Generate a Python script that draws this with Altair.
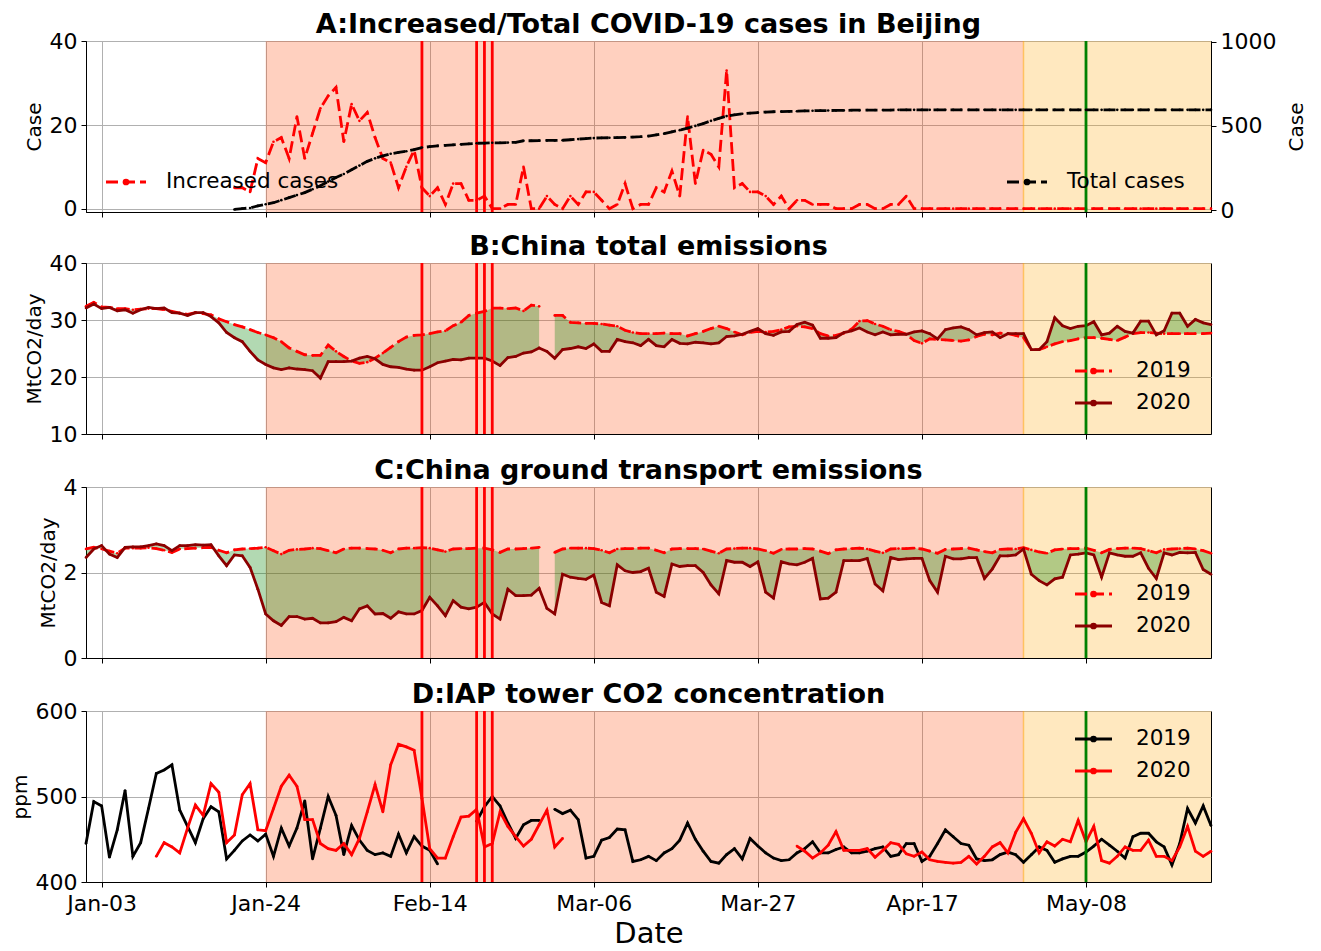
import altair as alt
import pandas as pd

FONT = "DejaVu Sans"

# ---------------- data ----------------
DATE_START = "2020-01-01"
DATE_END = "2020-05-24"
TICK_DATES = ["2020-01-03", "2020-01-24", "2020-02-14", "2020-03-06",
              "2020-03-27", "2020-04-17", "2020-05-08"]
SPAN_START = ["2020-01-24", "2020-04-30"]
SPAN_END = ["2020-04-30", "2020-05-24"]
SPAN_KIND = ["lockdown", "reopen"]
SPAN_COLORS = ["#ff4500", "#ffa500"]
RED_LINES = ["2020-02-13", "2020-02-20", "2020-02-21", "2020-02-22"]
GREEN_LINES = ["2020-05-08"]
EDGE_LINES = ["2020-04-30"]

# A: Beijing daily increased cases / total cases (from Jan-20)
INCREASED = [None] * 19 + [
    5, 5, 4, 12, 11, 16, 17, 12, 22, 12,
    18, 24, 27, 29, 16, 25, 21, 23, 17, 12,
    11, 5, 10, 14, 5, 3, 5, 1, 6, 6,
    2, 2, 3, 0, 0, 1, 1, 10, 0, 0,
    3, 1, 0, 3, 1, 4, 4, 2, 0, 1,
    6, 0, 1, 1, 5, 4, 9, 3, 22, 6,
    14, 13, 10, 33, 5, 6, 4, 4, 3, 1,
    3, 0, 2, 2, 1, 1, 1, 0, 0, 0,
    1, 1, 0, 0, 1, 1, 3, 0, 0, 0,
    0, 0, 0, 0, 0, 0, 0, 0, 0, 0,
    0, 0, 0, 0, 0, 0, 0, 0, 0, 0,
    0, 0, 0, 0, 0, 0, 0, 0, 0, 0,
    0, 0, 0, 0, 0, 0]
TOTAL = [None] * 19 + [
    5, 10, 14, 26, 36, 45, 60, 75, 90, 105,
    125, 145, 170, 195, 215, 240, 265, 290, 308, 322,
    335, 343, 350, 360, 372, 377, 382, 385, 388, 391,
    394, 397, 398, 400, 400, 401, 403, 412, 412, 413,
    414, 414, 415, 418, 422, 425, 428, 429, 430, 431,
    432, 434, 436, 440, 447, 454, 465, 475, 487, 500,
    514, 530, 545, 558, 566, 572, 576, 579, 582, 584,
    585, 586, 587, 589, 590, 591, 591, 592, 592, 593,
    593, 594, 594, 594, 594, 595, 595, 595, 595, 595,
    595, 595, 595, 595, 595, 595, 595, 595, 595, 595,
    595, 595, 595, 595, 595, 595, 595, 595, 595, 595,
    595, 595, 595, 595, 595, 595, 595, 595, 595, 595,
    595, 595, 595, 595, 595, 595]

# B: China total emissions (MtCO2/day)
B_2019 = [
    32.4, 33.1, 32.3, 32.2, 32.0, 32.0, 31.8, 31.9, 32.0, 32.0,
    31.8, 31.5, 31.2, 31.0, 31.3, 31.1, 30.9, 30.2, 29.7, 29.2,
    28.8, 28.3, 27.8, 27.4, 26.9, 26.2, 25.1, 24.5, 23.9, 23.8,
    23.8, 25.6, 24.5, 23.6, 22.8, 22.4, 22.6, 23.3, 24.2, 25.2,
    26.2, 27.0, 27.3, 27.4, 27.6, 27.9, 28.1, 29.0, 29.6, 30.8,
    31.2, 31.5, 32.1, 32.1, 32.0, 32.1, 31.6, 32.6, 32.4, None,
    30.8, 30.8, 29.6, 29.5, 29.4, 29.4, 29.3, 29.1, 28.9, 28.2,
    27.8, 27.6, 27.6, 27.6, 27.7, 27.6, 27.6, 27.2, 27.6, 28.0,
    28.5, 28.9, 28.5, 27.9, 27.4, 27.8, 28.0, 27.9, 28.0, 28.3,
    28.8, 28.9, 28.8, 28.5, 27.6, 27.2, 27.3, 27.7, 28.4, 29.8,
    29.9, 29.3, 28.9, 28.3, 28.0, 27.5, 26.4, 25.9, 26.7, 26.6,
    26.5, 26.4, 26.3, 26.5, 27.1, 27.5, 27.4, 27.7, 27.6, 27.3,
    26.9, 24.8, 24.8, 25.3, 25.8, 26.2, 26.4, 26.7, 26.9, 26.9,
    26.8, 26.6, 26.4, 27.0, 27.6, 27.8, 27.8, 27.7, 27.6, 27.6,
    27.6, 27.6, 27.6, 27.6, 27.7]
B_2020 = [
    32.1, 32.8, 32.0, 32.2, 31.6, 31.8, 31.2, 31.8, 32.2, 32.0,
    32.1, 31.3, 31.2, 30.8, 31.3, 31.3, 30.6, 29.5, 27.8, 26.9,
    26.2, 24.5, 23.0, 22.2, 21.6, 21.3, 21.6, 21.4, 21.3, 21.1,
    19.8, 22.7, 22.7, 22.7, 22.8, 23.3, 23.6, 23.2, 22.2, 21.8,
    21.7, 21.4, 21.2, 21.2, 21.8, 22.5, 22.8, 23.1, 23.0, 23.3,
    23.3, 23.3, 22.8, 22.0, 23.4, 23.6, 24.2, 24.4, 25.1, 24.5,
    23.3, 24.8, 25.0, 25.3, 25.0, 25.8, 24.5, 24.5, 26.6, 26.2,
    26.0, 25.5, 26.6, 25.5, 25.3, 26.6, 25.9, 25.8, 26.1, 26.0,
    25.8, 26.0, 27.1, 27.2, 27.5, 28.0, 28.5, 27.6, 27.3, 27.9,
    28.0, 29.2, 29.6, 29.1, 26.8, 26.8, 26.9, 27.8, 28.1, 28.6,
    27.9, 27.4, 27.9, 27.4, 27.5, 27.5, 27.9, 28.1, 27.6, 26.7,
    28.3, 28.6, 28.8, 28.3, 27.4, 27.8, 27.9, 26.9, 27.6, 27.6,
    27.6, 24.8, 24.8, 26.2, 30.4, 29.0, 28.5, 28.9, 29.0, 29.7,
    27.4, 27.7, 28.9, 28.0, 27.7, 29.8, 29.8, 27.4, 28.1, 31.2,
    31.2, 28.9, 30.1, 29.5, 29.2]

# C: China ground transport emissions (MtCO2/day)
C_2019 = [
    2.55, 2.59, 2.55, 2.50, 2.45, 2.57, 2.57, 2.57, 2.58, 2.56,
    2.52, 2.47, 2.55, 2.56, 2.57, 2.58, 2.59, 2.52, 2.46, 2.53,
    2.55, 2.56, 2.57, 2.59, 2.51, 2.43, 2.52, 2.54, 2.55, 2.57,
    2.56, 2.51, 2.46, 2.55, 2.57, 2.57, 2.56, 2.55, 2.52, 2.46,
    2.55, 2.57, 2.57, 2.58, 2.57, 2.53, 2.49, 2.55, 2.56, 2.56,
    2.57, 2.57, 2.53, 2.47, 2.55, 2.55, 2.56, 2.57, 2.59, None,
    2.47, 2.55, 2.57, 2.57, 2.57, 2.56, 2.52, 2.46, 2.55, 2.56,
    2.56, 2.57, 2.57, 2.52, 2.46, 2.55, 2.56, 2.56, 2.56, 2.55,
    2.50, 2.45, 2.55, 2.56, 2.57, 2.57, 2.55, 2.51, 2.45, 2.54,
    2.55, 2.55, 2.56, 2.55, 2.50, 2.44, 2.53, 2.55, 2.56, 2.57,
    2.55, 2.50, 2.46, 2.55, 2.56, 2.56, 2.57, 2.55, 2.50, 2.45,
    2.54, 2.55, 2.56, 2.57, 2.53, 2.49, 2.46, 2.54, 2.55, 2.55,
    2.58, 2.53, 2.48, 2.45, 2.53, 2.55, 2.56, 2.56, 2.57, 2.52,
    2.46, 2.54, 2.56, 2.57, 2.57, 2.56, 2.51, 2.46, 2.54, 2.55,
    2.56, 2.57, 2.55, 2.51, 2.45]
C_2020 = [
    2.35, 2.55, 2.63, 2.43, 2.35, 2.59, 2.60, 2.60, 2.63, 2.67,
    2.63, 2.51, 2.63, 2.63, 2.65, 2.64, 2.65, 2.39, 2.16, 2.41,
    2.39, 2.12, 1.61, 1.03, 0.87, 0.76, 0.97, 0.97, 0.91, 0.93,
    0.82, 0.82, 0.85, 0.95, 0.87, 1.15, 1.22, 1.03, 1.04, 0.93,
    1.08, 1.03, 1.03, 1.11, 1.42, 1.22, 0.99, 1.34, 1.19, 1.15,
    1.19, 1.30, 1.03, 0.91, 1.61, 1.46, 1.46, 1.47, 1.63, 1.16,
    1.03, 1.96, 1.89, 1.86, 1.84, 1.94, 1.30, 1.22, 2.18, 2.04,
    2.00, 2.02, 2.10, 1.54, 1.44, 2.20, 2.14, 2.16, 2.16, 2.00,
    1.71, 1.50, 2.28, 2.24, 2.24, 2.14, 2.25, 1.54, 1.40, 2.25,
    2.20, 2.18, 2.24, 2.33, 1.38, 1.40, 1.54, 2.28, 2.28, 2.28,
    2.33, 1.73, 1.57, 2.35, 2.30, 2.32, 2.33, 2.33, 1.81, 1.54,
    2.38, 2.32, 2.32, 2.35, 2.35, 1.86, 2.08, 2.39, 2.39, 2.41,
    2.55, 1.96, 1.81, 1.71, 1.85, 1.89, 2.41, 2.43, 2.46, 2.41,
    1.89, 2.46, 2.41, 2.38, 2.38, 2.46, 2.10, 1.86, 2.46, 2.41,
    2.47, 2.46, 2.47, 2.07, 1.96]

# D: IAP tower CO2 concentration (ppm)
D_2019 = [
    445, 494, 489, 429, 461, 507, 430, 446, 486, 527,
    531, 537, 484, 465, 446, 474, 488, 482, 427, 437,
    448, 455, 448, 456, 430, 463, 442, 463, 495, 427,
    463, 500, 478, 432, 466, 449, 437, 432, 434, 430,
    456, 434, 453, 442, 437, 421, None, None, None, None,
    471, 488, 500, 489, 469, 451, 467, 472, 472, None,
    485, 480, 484, 473, 428, 430, 449, 452, 462, 461,
    424, 426, 430, 425, 434, 439, 449, 469, 450, 436,
    424, 422, 432, 439, 427, 451, 442, 434, 428, 425,
    426, 434, 439, 447, 434, 434, 438, 441, 434, 434,
    436, 439, 441, 430, 432, 445, 445, 424, 430, 445,
    461, 453, 445, 443, 427, 425, 426, 432, 435, 432,
    423, 432, 441, 437, 423, 427, 430, 430, 435, 442,
    450, 443, 436, 428, 453, 457, 457, 447, 441, 420,
    445, 486, 469, 489, 466]
D_2020 = [None] * 9 + [
    430, 446, 441, 434, 463, 490, 478, 515, 505, 446,
    455, 502, 515, 461, 460, 486, 512, 525, 512, 473,
    473, 445, 439, 437, 445, 432, 451, 482, 514, 482,
    537, 561, 558, 554, 498, 439, 428, 428, 453, 476,
    477, 485, 441, 445, 482, 465, 453, 442, 450, 467,
    484, 441, 451] + [None] * 29 + [
    442, 436, 428, 434, 443, 459, 437, 437, 437,
    439, 429, 437, 446, 444, 433, 430, 435, 426, 424,
    423, 422, 423, 430, 421, 430, 441, 446, 434, 458,
    474, 457, 434, 447, 442, 450, 447, 472, 447, 465,
    425, 422, 430, 441, 437, 437, 449, 430, 430, 425,
    441, 465, 436, 430, 436]

# ---------------- helpers ----------------
DAYS = pd.date_range(DATE_START, DATE_END, freq="D")
DATE_MS = [int(t.value // 10**6) for t in DAYS]
for s in (INCREASED, TOTAL, B_2019, B_2020, C_2019, C_2020, D_2019, D_2020):
    assert len(s) == len(DATE_MS), len(s)


def ms(s):
    return int(pd.Timestamp(s).value // 10**6)


def series_df(values):
    rows, seg, gap = [], 0, True
    for t, v in zip(DATE_MS, values):
        if v is None:
            gap = True
            continue
        if gap:
            seg += 1
            gap = False
        rows.append({"date": t, "v": v, "seg": seg})
    return pd.DataFrame(rows)


def band_df(a, b):
    rows, seg, gap = [], 0, True
    for t, va, vb in zip(DATE_MS, a, b):
        if va is None or vb is None:
            gap = True
            continue
        if gap:
            seg += 1
            gap = False
        rows.append({"date": t, "lo": va, "hi": vb, "seg": seg})
    return pd.DataFrame(rows)


W, H = 1125, 171
RED, DARKRED, GREEN, BLACK = "#ff0000", "#8b0000", "#008000", "#000000"
DASH = [12, 5]
LW = 2.8
DUMMY = pd.DataFrame({"k": [0]})

XSCALE = alt.Scale(type="utc", domain=[ms(DATE_START), ms(DATE_END)], nice=False)
TICKS = [ms(d) for d in TICK_DATES]
AX_TOP = alt.Axis(values=TICKS, labels=False, title=None, grid=True)
AX_BOTTOM = alt.Axis(values=TICKS, labelExpr="utcFormat(datum.value, '%b-%d')",
                     title="Date", titleFontSize=29, titlePadding=5, labelPadding=6,
                     grid=True, labelFlush=False)


def xch(field, bottom):
    return alt.X(f"{field}:T", scale=XSCALE, axis=AX_BOTTOM if bottom else AX_TOP)


def spans(bottom):
    df = pd.DataFrame({"start": [ms(s) for s in SPAN_START],
                       "end": [ms(s) for s in SPAN_END], "kind": SPAN_KIND})
    return alt.Chart(df).mark_rect(opacity=0.25, strokeWidth=0).encode(
        x=xch("start", bottom), x2="end:T", y=alt.value(0), y2=alt.value(H),
        color=alt.Color("kind:N", scale=alt.Scale(domain=SPAN_KIND, range=SPAN_COLORS),
                        legend=None))


def vlines(dates, color, bottom, width=LW, opacity=1.0):
    df = pd.DataFrame({"date": [ms(d) for d in dates]})
    return alt.Chart(df).mark_rule(color=color, strokeWidth=width, opacity=opacity).encode(
        x=xch("date", bottom), y=alt.value(0), y2=alt.value(H))


def line(values, ych, color, bottom, dash=None):
    df = series_df(values)
    kw = dict(color=color, strokeWidth=LW)
    if dash:
        kw["strokeDash"] = dash
    ln = alt.Chart(df).mark_line(**kw).encode(x=xch("date", bottom), y=ych, detail="seg:N")
    pt = alt.Chart(df).mark_circle(color=color, size=7, opacity=1).encode(
        x=xch("date", bottom), y=ych)
    return [ln, pt]


def legend_item(x0, y, color, label, dash=None, width=40, gap=20, fs=21.5):
    kw = dict(color=color, strokeWidth=LW)
    if dash:
        kw["strokeDash"] = dash
    ln = alt.Chart(DUMMY).mark_rule(**kw).encode(
        x=alt.value(x0), x2=alt.value(x0 + width), y=alt.value(y))
    dot = alt.Chart(DUMMY).mark_circle(color=color, size=45, opacity=1).encode(
        x=alt.value(x0 + width / 2), y=alt.value(y))
    txt = alt.Chart(DUMMY).mark_text(text=label, align="left", baseline="middle",
                                     fontSize=fs, font=FONT, color="black").encode(
        x=alt.value(x0 + width + gap), y=alt.value(y))
    return [ln, dot, txt]


def markers(bottom):
    return [vlines(RED_LINES, RED, bottom), vlines(GREEN_LINES, GREEN, bottom)]


def yaxis(field, domain, values, title):
    return alt.Y(f"{field}:Q", scale=alt.Scale(domain=domain, nice=False, zero=False),
                 axis=alt.Axis(values=values, title=title, grid=True))


# ---------------- panel A ----------------
yA = yaxis("v", [-0.8, 40.1], [0, 20, 40], "Case")
yA_right = alt.Y("v:Q", scale=alt.Scale(domain=[-10, 1003], nice=False, zero=False),
                 axis=alt.Axis(values=[0, 500, 1000], format="d", title="Case",
                               orient="right", grid=False, titleAngle=270,
                               titleBaseline="top", titlePadding=11))
left_A = alt.layer(
    spans(False), vlines(EDGE_LINES, "#ffa500", False, 1.5, 0.5),
    *line(INCREASED, yA, RED, False, DASH),
    *markers(False),
    *legend_item(20, 141, RED, "Increased cases", DASH),
)
right_A = alt.layer(
    *line(TOTAL, yA_right, BLACK, False, DASH),
    *legend_item(921, 141, BLACK, "Total cases", DASH),
)
panel_A = alt.layer(left_A, right_A).resolve_scale(y="independent").properties(
    width=W, height=H, title="A:Increased/Total COVID-19 cases in Beijing")


# ---------------- panels B, C ----------------
def emission_panel(a2019, a2020, domain, values, title, ly):
    y = yaxis("v", domain, values, "MtCO2/day")
    band = alt.Chart(band_df(a2019, a2020)).mark_area(color=GREEN, opacity=0.3).encode(
        x=xch("date", False), y=yaxis("lo", domain, values, "MtCO2/day"),
        y2="hi:Q", detail="seg:N")
    return alt.layer(
        spans(False), vlines(EDGE_LINES, "#ffa500", False, 1.5, 0.5), band,
        *line(a2019, y, RED, False, DASH),
        *line(a2020, y, DARKRED, False),
        *markers(False),
        *legend_item(989, ly, RED, "2019", DASH, 37, 24),
        *legend_item(989, ly + 32, DARKRED, "2020", None, 37, 24),
    ).properties(width=W, height=H, title=title)


panel_B = emission_panel(B_2019, B_2020, [10, 40], [10, 20, 30, 40],
                         "B:China total emissions", 108)
panel_C = emission_panel(C_2019, C_2020, [0, 4], [0, 2, 4],
                         "C:China ground transport emissions", 107)

# ---------------- panel D ----------------
yD = yaxis("v", [400, 600], [400, 500, 600], "ppm")
panel_D = alt.layer(
    spans(True), vlines(EDGE_LINES, "#ffa500", True, 1.5, 0.5),
    *line(D_2019, yD, BLACK, True),
    *line(D_2020, yD, RED, True),
    *markers(True),
    *legend_item(989, 28, BLACK, "2019", None, 37, 24),
    *legend_item(989, 60, RED, "2020", None, 37, 24),
).properties(width=W, height=H, title="D:IAP tower CO2 concentration")

chart = alt.vconcat(panel_A, panel_B, panel_C, panel_D, spacing=10).properties(
    padding={"left": 1, "top": 2, "right": 5, "bottom": 0}
).configure(font=FONT).configure_axis(
    labelFont=FONT, titleFont=FONT, labelFontSize=22, titleFontSize=20,
    titleFontWeight="normal", labelColor="black", titleColor="black",
    domainColor="black", tickColor="black", gridColor="#b0b0b0", gridWidth=1,
    gridOpacity=1, tickSize=5, labelPadding=4, titlePadding=5, domainWidth=1,
).configure_view(stroke="black", strokeWidth=1).configure_title(
    font=FONT, fontSize=27, fontWeight="bold", anchor="middle", offset=-9,
    frame="group", color="black")

chart.save("out.html", embed_options={"renderer": "svg", "actions": False})
